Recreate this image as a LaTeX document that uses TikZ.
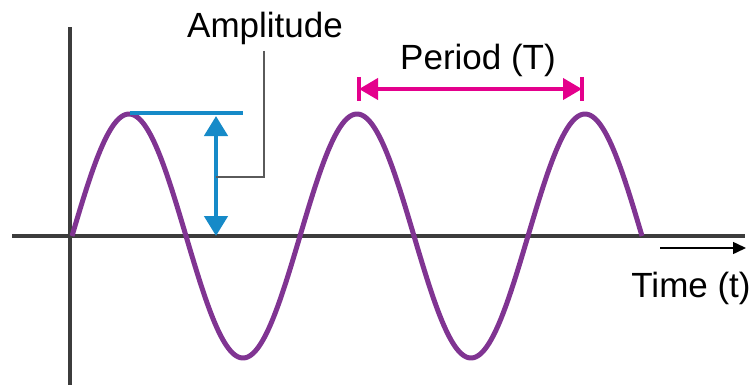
\documentclass[tikz,border=0pt]{standalone}
\usepackage{fontspec}
\setmainfont{Liberation Sans}
\usetikzlibrary{arrows.meta,calc}
\definecolor{wavepurple}{RGB}{128,52,146}
\definecolor{ampblue}{RGB}{22,138,200}
\definecolor{permag}{RGB}{228,0,140}
\definecolor{axisgray}{RGB}{60,60,60}
\definecolor{leadgray}{RGB}{90,90,90}
\tikzset{
  lbl/.style={inner sep=0pt, anchor=base, font=\fontsize{35}{40}\selectfont},
  axisline/.style={draw=axisgray, line width=4pt},
  wave/.style={draw=wavepurple, line width=5pt, line join=round},
  ampline/.style={draw=ampblue, line width=4.5pt},
  perline/.style={draw=permag, line width=4pt},
  leader/.style={draw=leadgray, line width=1.2pt},
}
\begin{document}
\begin{tikzpicture}[x=1pt,y=-1pt]
\useasboundingbox (0,0) rectangle (754,385);
% axes
\coordinate (yt) at (70,27);
\coordinate (yb) at (70,385);
\coordinate (xl) at (12,236);
\coordinate (xr) at (745,236);
\draw[axisline] (yb) -- (yt);
\draw[axisline] (xl) -- (xr);
% wave
\draw[wave] plot[domain=72:642, samples=300] (\x, {236-122*sin((\x-72)/228*360)});
% amplitude
\coordinate (ptop) at (130,113);
\coordinate (pend) at (243,113);
\draw[draw=ampblue, line width=4pt] (ptop) -- (pend);
\coordinate (at) at (216,116);
\coordinate (ab) at (216,236);
\draw[ampline, {Triangle[length=20pt,width=23pt]}-{Triangle[length=20pt,width=23pt]}] (at) -- (ab);
\node[lbl] (amp) at (265,38) {Amplitude};
\coordinate (lt) at (264,51);
\coordinate (lm) at (216,177);
\draw[leader] (lt) |- (lm);
% period
\coordinate (pl) at (359,89);
\coordinate (pr) at (582,89);
\draw[perline] ($(pl)+(0,-12)$) -- ($(pl)+(0,12)$);
\draw[perline] ($(pr)+(0,-12)$) -- ($(pr)+(0,12)$);
\draw[perline, {Triangle[length=19pt,width=21pt]}-{Triangle[length=19pt,width=21pt]}] (pl) -- (pr);
\node[lbl] (per) at (478,70) {Period (T)};
% time
\coordinate (tl) at (660,248);
\coordinate (tr) at (746,248);
\draw[draw=black, line width=1.5pt, -{Triangle[length=13pt,width=12pt]}] (tl) -- (tr);
\node[lbl] (time) at (691,297) {Time (t)};
\end{tikzpicture}
\end{document}
